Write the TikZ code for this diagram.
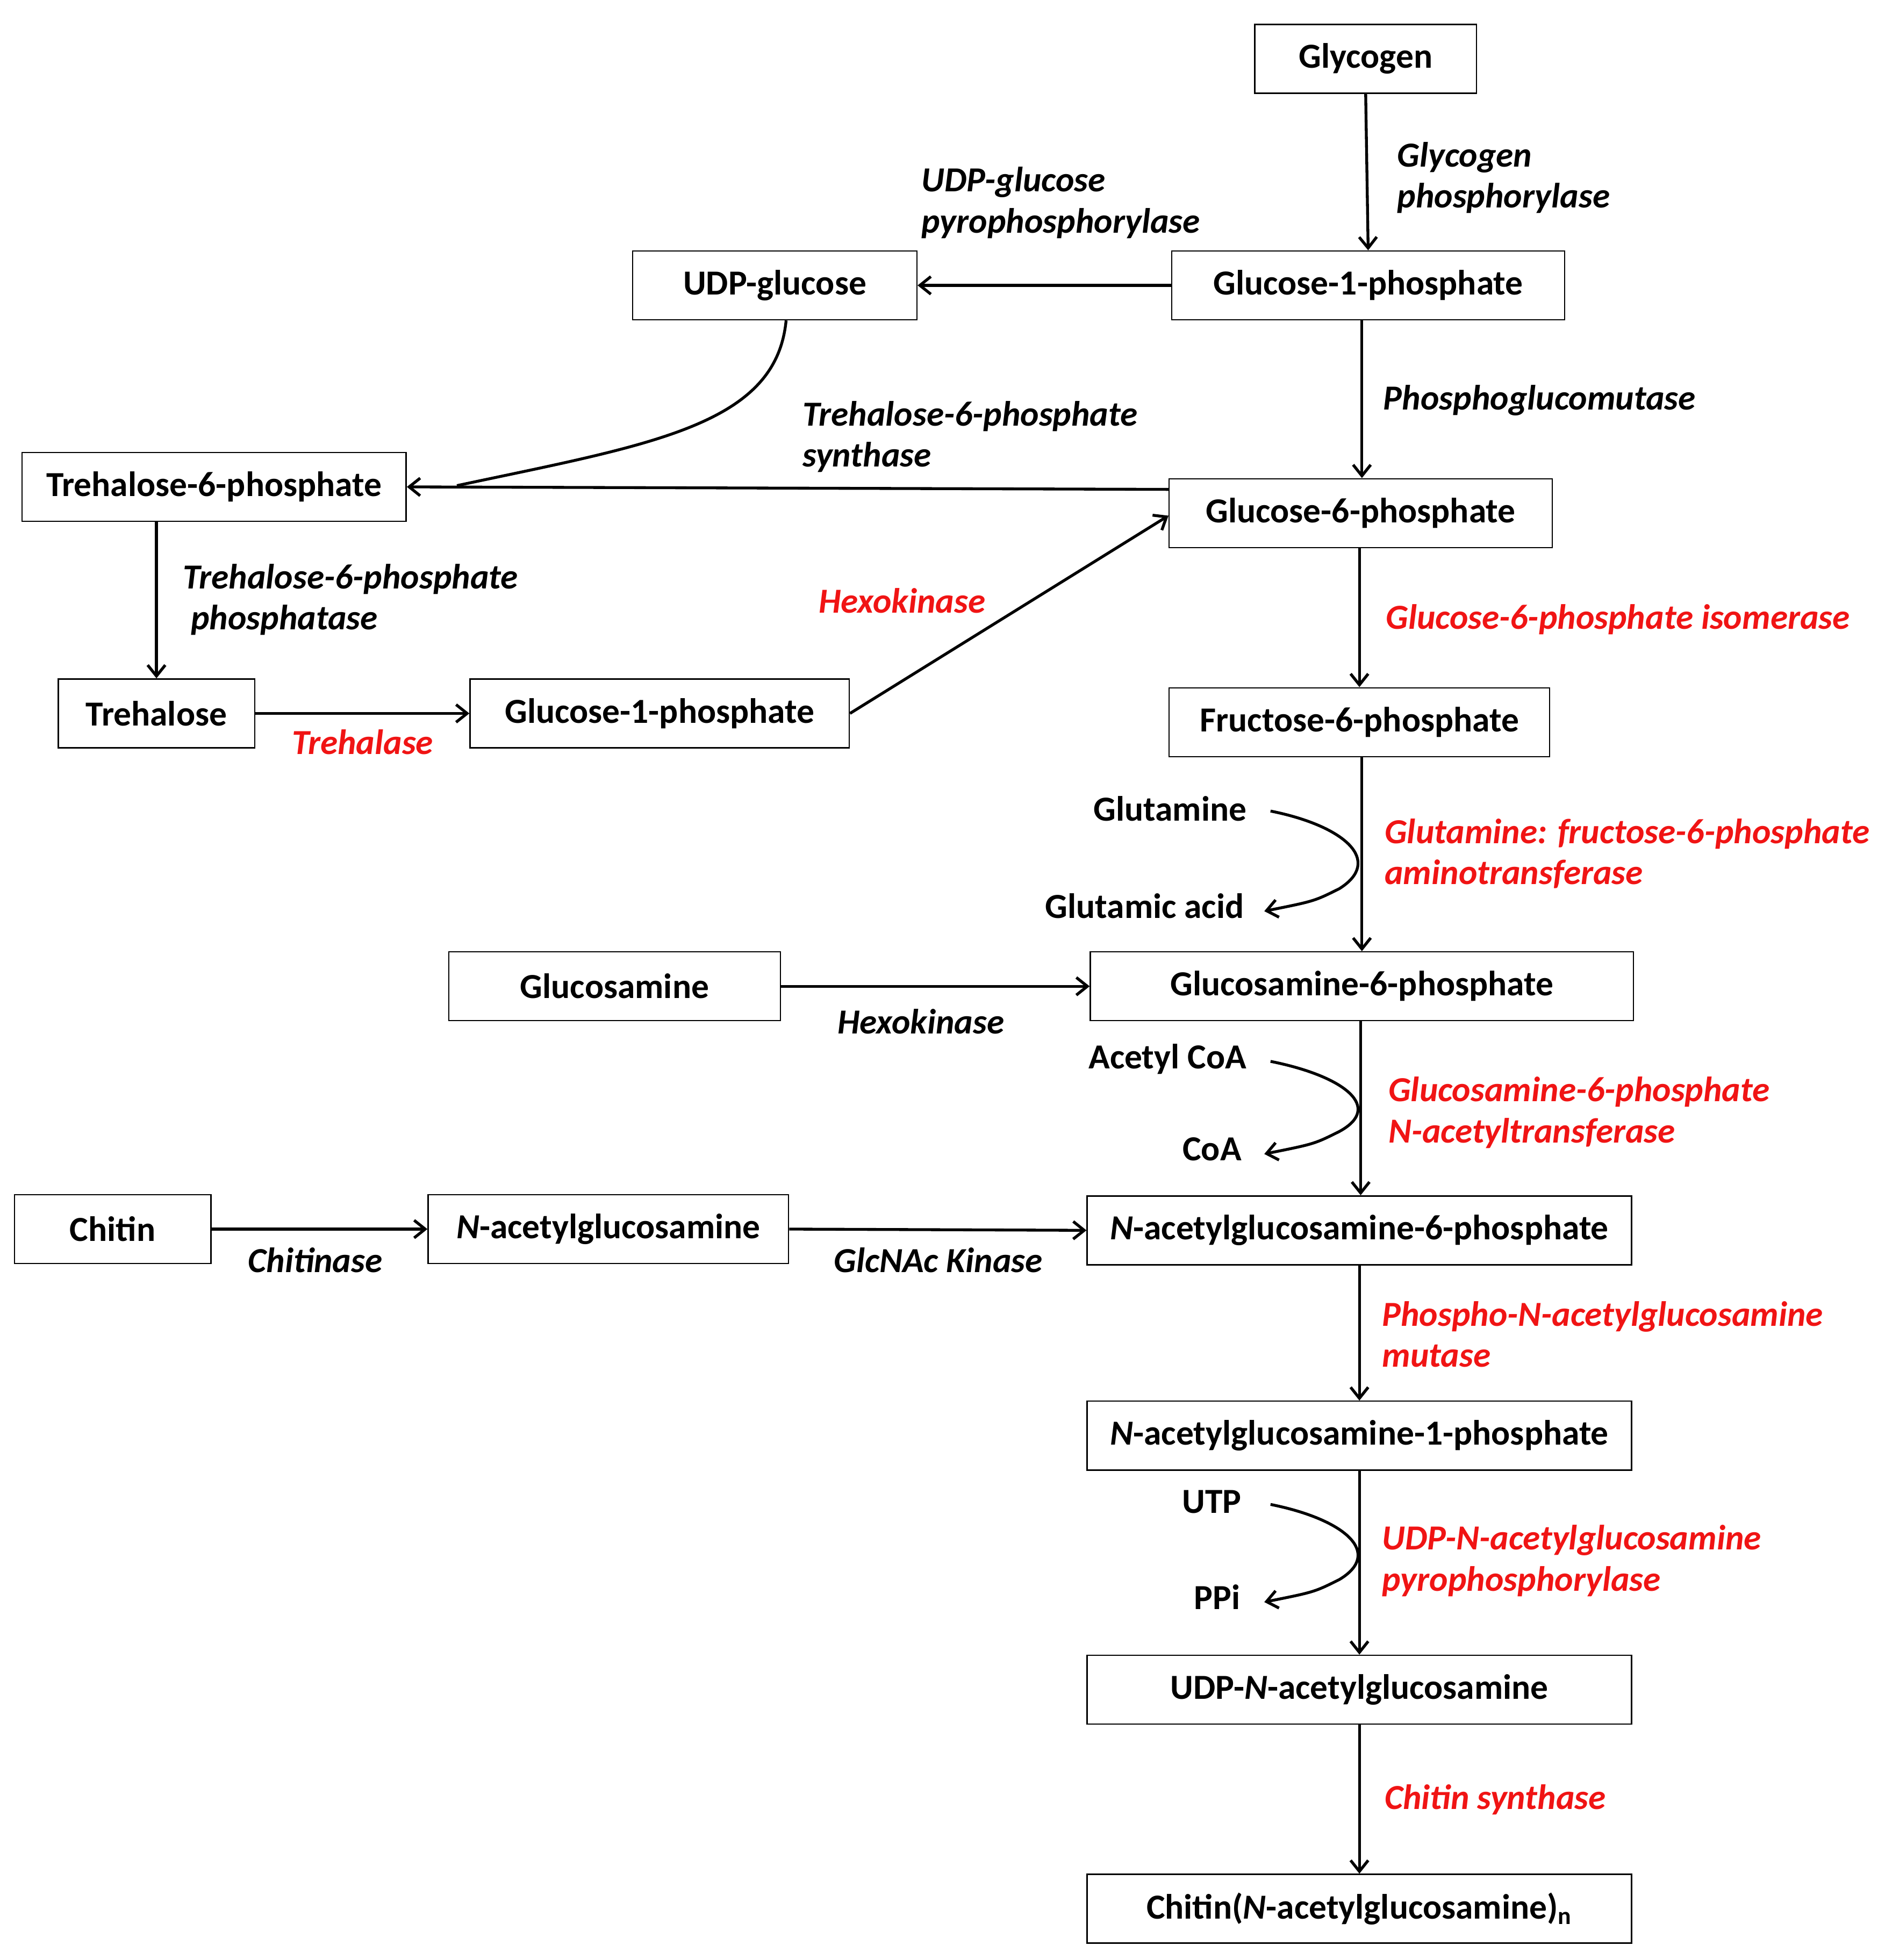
\documentclass[tikz,border=0pt]{standalone}
\usepackage{fontspec}
\setmainfont{Carlito}
\usetikzlibrary{arrows.meta}
\definecolor{myred}{RGB}{240,20,20}
\begin{document}
\begin{tikzpicture}[x=0.02cm,y=-0.02cm,
 every node/.style={font=\fontsize{16}{18.7}\selectfont\bfseries},
 box/.style={draw,line width=0.6pt,minimum height=1.1cm,inner sep=0pt},
 arr/.style={line width=1.3pt,-{Straight Barb[length=5pt,width=8pt]}},
 lab/.style={font=\fontsize{16}{18.7}\selectfont\bfseries\itshape,align=left,anchor=west},
 rlab/.style={lab,text=myred}]
\useasboundingbox (0,0) rectangle (1500,1566);
\node[box,minimum width=177*0.02cm] (gly) at (1091,47) {Glycogen};
\node[box,minimum width=314*0.02cm] (g1p) at (1093,228) {Glucose-1-phosphate};
\node[box,minimum width=227*0.02cm] (udpg) at (619,228) {UDP-glucose};
\node[box,minimum width=307*0.02cm] (t6p) at (171,389) {Trehalose-6-phosphate};
\node[box,minimum width=306*0.02cm] (g6p) at (1087,410) {Glucose-6-phosphate};
\node[box,minimum width=157*0.02cm] (tre) at (125,570) {Trehalose};
\node[box,minimum width=303*0.02cm] (g1pb) at (527,570) {Glucose-1-phosphate};
\node[box,minimum width=304*0.02cm] (f6p) at (1086,577) {Fructose-6-phosphate};
\node[box,minimum width=265*0.02cm] (gn) at (491,788) {Glucosamine};
\node[box,minimum width=434*0.02cm] (gn6p) at (1088,788) {Glucosamine-6-phosphate};
\node[box,minimum width=157*0.02cm] (chi) at (90,982) {Chitin};
\node[box,minimum width=288*0.02cm] (nag) at (486,982) {\textit{N}-acetylglucosamine};
\node[box,minimum width=435*0.02cm] (nag6) at (1086,983) {\textit{N}-acetylglucosamine-6-phosphate};
\node[box,minimum width=435*0.02cm] (nag1) at (1086,1147) {\textit{N}-acetylglucosamine-1-phosphate};
\node[box,minimum width=435*0.02cm] (udpn) at (1086,1350) {UDP-\textit{N}-acetylglucosamine};
\node[box,minimum width=435*0.02cm] (chn) at (1086,1525) {Chitin(\textit{N}-acetylglucosamine)\textsubscript{n}};
% vertical arrows
\draw[arr] (gly.south) -- (g1p.north);
\draw[arr] (g1p.south -| 1088,0) -- (g6p.north -| 1088,0);
\draw[arr] (g6p.south -| 1086,0) -- (f6p.north -| 1086,0);
\draw[arr] (f6p.south -| 1088,0) -- (gn6p.north -| 1088,0);
\draw[arr] (gn6p.south -| 1087,0) -- (nag6.north -| 1087,0);
\draw[arr] (nag6.south) -- (nag1.north);
\draw[arr] (nag1.south) -- (udpn.north);
\draw[arr] (udpn.south) -- (chn.north);
\draw[arr] (t6p.south -| 125,0) -- (tre.north);
% horizontal
\draw[arr] (g1p.west) -- (udpg.east);
\draw[arr] (g6p.west |- 0,391) -- (t6p.east);
\draw[line width=1.3pt] (udpg.south -| 628,0) .. controls (620,340) and (520,355) .. (365,388);
\draw[arr] (tre.east) -- (g1pb.west);
\draw[arr] (g1pb.east) -- (g6p.south west |- 0,412);
\draw[arr] (gn.east) -- (gn6p.west);
\draw[arr] (chi.east) -- (nag.west);
\draw[arr] (nag.east) -- (nag6.west);
% side loops
\foreach \ya/\yb/\na/\nb/\xa/\xb in {648/728/Glutamine/Glutamic acid/1002/1000, 848/922/Acetyl CoA/CoA/1002/998, 1202/1280/UTP/PPi/998/997}{
 \coordinate (s) at (1015,\ya);
 \coordinate (e) at (1010,\yb);
 \draw[arr] (s) .. controls (1075,\ya+12) and (1105,{(\ya+\yb)/2}) .. (1070,{\yb-18}) .. controls (1050,\yb-8) .. (e);
 \node[anchor=east] at (\xa,\ya-2) {\na};
 \node[anchor=east] at (\xb,\yb-4) {\nb};
}
% labels
\node[lab] at (1110,142) {Glycogen\\phosphorylase};
\node[lab] at (730,162) {UDP-glucose\\pyrophosphorylase};
\node[lab] at (1099,320) {Phosphoglucomutase};
\node[lab] at (635,349) {Trehalose-6-phosphate\\synthase};
\node[lab] at (140,479) {Trehalose-6-phosphate\\\ phosphatase};
\node[rlab] at (648,480) {Hexokinase};
\node[rlab] at (1101,495) {Glucose-6-phosphate isomerase};
\node[rlab] at (227,593) {Trehalase};
\node[rlab] at (1100,682) {Glutamine: fructose-6-phosphate\\aminotransferase};
\node[lab] at (663,816) {Hexokinase};
\node[rlab] at (1103,889) {Glucosamine-6-phosphate\\\textit{N}-acetyltransferase};
\node[lab] at (192,1007) {Chitinase};
\node[lab] at (660,1007) {GlcNAc Kinase};
\node[rlab] at (1098,1066) {Phospho-\textit{N}-acetylglucosamine\\mutase};
\node[rlab] at (1098,1247) {UDP-\textit{N}-acetylglucosamine\\pyrophosphorylase};
\node[rlab] at (1100,1438) {Chitin synthase};
\end{tikzpicture}
\end{document}
